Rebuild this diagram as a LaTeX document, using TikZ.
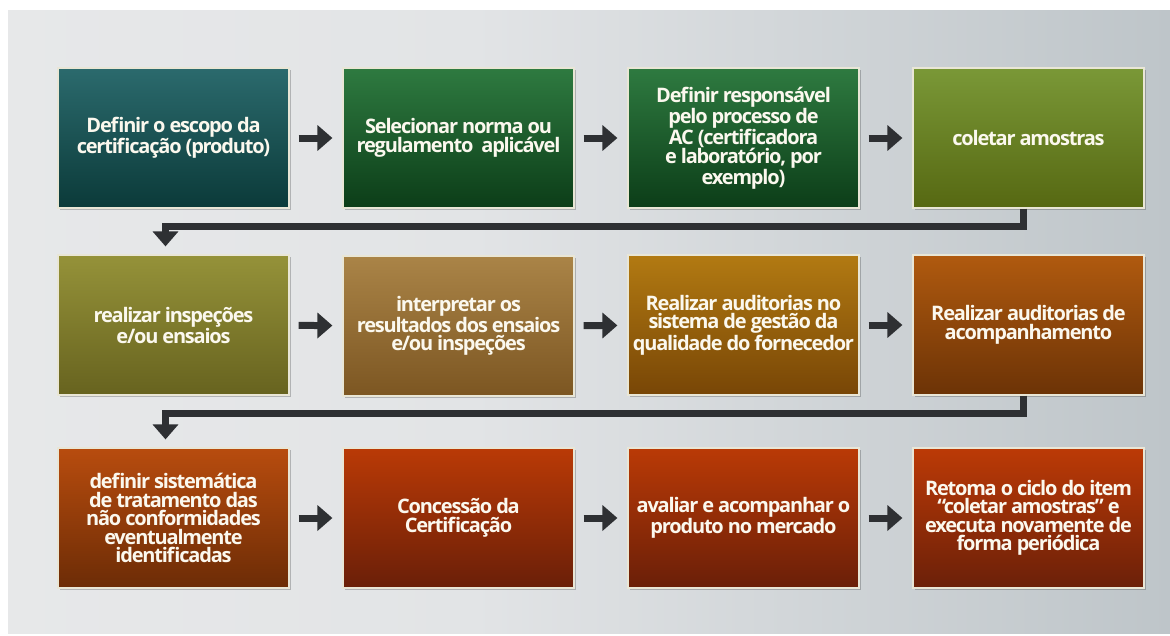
\documentclass[tikz,border=0pt]{standalone}
\usepackage{fontspec}
\newfontfamily\boxfont[LetterSpace=-6]{Open Sans}
\usetikzlibrary{arrows.meta,shadows}

% background tones, light on the left to blue-grey on the right
\definecolor{bgA}{HTML}{EDEDED}
\definecolor{bgB}{HTML}{E2E4E6}
\definecolor{bgC}{HTML}{BEC5C9}
\definecolor{bgD}{HTML}{84929B}
\pgfdeclarehorizontalshading{bgshade}{100bp}{color(0bp)=(bgA); color(45bp)=(bgB); color(75bp)=(bgC); color(100bp)=(bgD)}

% step colours (top / bottom of each gradient)
\definecolor{c1t}{HTML}{2B6A6D}\definecolor{c1b}{HTML}{0B3A39}
\definecolor{c2t}{HTML}{2E7A40}\definecolor{c2b}{HTML}{0C3D18}
\definecolor{c3t}{HTML}{2E7A40}\definecolor{c3b}{HTML}{0C3D18}
\definecolor{c4t}{HTML}{7A9837}\definecolor{c4b}{HTML}{566812}
\definecolor{c5t}{HTML}{959239}\definecolor{c5b}{HTML}{67631F}
\definecolor{c6t}{HTML}{AA8447}\definecolor{c6b}{HTML}{7C5622}
\definecolor{c7t}{HTML}{B27A12}\definecolor{c7b}{HTML}{784606}
\definecolor{c8t}{HTML}{B05A0F}\definecolor{c8b}{HTML}{6C3306}
\definecolor{c9t}{HTML}{B84C0E}\definecolor{c9b}{HTML}{6C2C06}
\definecolor{c10t}{HTML}{BA3A06}\definecolor{c10b}{HTML}{6A1F08}
\definecolor{c11t}{HTML}{BA3A06}\definecolor{c11b}{HTML}{6A1F08}
\definecolor{c12t}{HTML}{BC3A06}\definecolor{c12b}{HTML}{6B2009}
\definecolor{rim}{HTML}{E9E6D6}
\definecolor{ink}{HTML}{FBF8EE}
\definecolor{arrowgrey}{HTML}{2E3033}

\tikzset{
  stepbox/.style 2 args={rectangle, minimum width=231pt, minimum height=140pt,
    inner sep=0pt, top color=#1, bottom color=#2, draw=rim, line width=1.2pt,
    drop shadow={shadow xshift=2pt, shadow yshift=-2pt, opacity=0.22, fill=black},
    align=center, text=ink, font=\boxfont\bfseries\fontsize{20}{18.5}\selectfont},
  flow/.style={draw=arrowgrey, line width=7pt, -{Triangle[width=25pt,length=15pt]}},
  sideflow/.style={flow, shorten <=9pt, shorten >=10pt},
  loopflow/.style={flow, shorten >=8pt}
}

\begin{document}
\begin{tikzpicture}[x=1pt,y=-1pt]
\useasboundingbox (0,0) rectangle (1170,635);
\fill[white] (0,0) rectangle (1170,635);
\shade[shading=bgshade] (8,10) rectangle (1170,633);

% first row
\node[stepbox={c1t}{c1b}] (b1) at (173.5,138) {Definir o escopo da\\certificação (produto)};
\node[stepbox={c2t}{c2b}] (b2) at (458.5,138) {Selecionar norma ou\\regulamento~ aplicável};
\node[stepbox={c3t}{c3b}] (b3) at (743.5,138) {Definir responsável\\pelo processo de\\AC (certificadora\\e laboratório, por\\exemplo)};
\node[stepbox={c4t}{c4b}] (b4) at (1028.5,138) {coletar amostras};

% second row
\node[stepbox={c5t}{c5b}] (b5) at (173.5,325) {realizar inspeções\\e/ou ensaios};
\node[stepbox={c6t}{c6b}] (b6) at (458.5,326) {interpretar os\\resultados dos ensaios\\e/ou inspeções};
\node[stepbox={c7t}{c7b}] (b7) at (743.5,325) {Realizar auditorias no\\sistema de gestão da\\qualidade do fornecedor};
\node[stepbox={c8t}{c8b}] (b8) at (1028.5,325) {Realizar auditorias de\\acompanhamento};

% third row
\node[stepbox={c9t}{c9b}] (b9) at (173.5,518) {definir sistemática\\de tratamento das\\não conformidades\\eventualmente\\identificadas};
\node[stepbox={c10t}{c10b}] (b10) at (458.5,518) {Concessão da\\Certificação};
\node[stepbox={c11t}{c11b}] (b11) at (743.5,518) {avaliar e acompanhar o\\produto no mercado};
\node[stepbox={c12t}{c12b}] (b12) at (1028.5,518) {Retoma o ciclo do item\\“coletar amostras” e\\executa novamente de\\forma periódica};

% arrows within each row
\draw[sideflow] (b1) -- (b2);
\draw[sideflow] (b2) -- (b3);
\draw[sideflow] (b3) -- (b4);
\draw[sideflow] (b5) -- (b6);
\draw[sideflow] (b6) -- (b7);
\draw[sideflow] (b7) -- (b8);
\draw[sideflow] (b9) -- (b10);
\draw[sideflow] (b10) -- (b11);
\draw[sideflow] (b11) -- (b12);

% return lines down to the next row
\draw[loopflow] ([xshift=-5pt]b4.south) -- ++(0,18) -| ([xshift=-8pt]b5.north);
\draw[loopflow] ([xshift=-5pt]b8.south) -- ++(0,18) -| ([xshift=-8pt]b9.north);
\end{tikzpicture}
\end{document}
